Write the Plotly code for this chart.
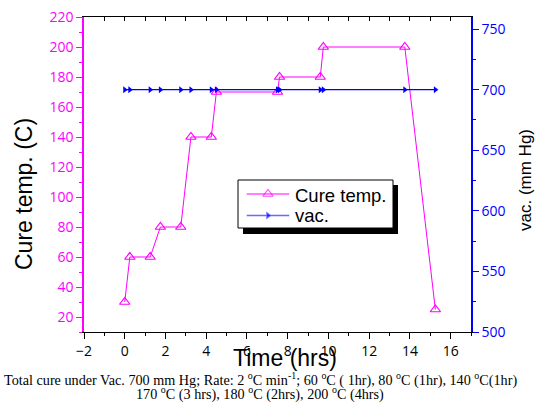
import plotly.graph_objects as go

# Data
time_hrs = [0, 0.25, 1.25, 1.75, 2.75, 3.25, 4.25, 4.5, 7.5, 7.6, 9.6, 9.75, 13.75, 15.25]
cure_temp = [30, 60, 60, 80, 80, 140, 140, 170, 170, 180, 180, 200, 200, 25]
vac_time = [0, 0.25, 1.25, 1.75, 2.75, 3.25, 4.25, 4.5, 7.5, 7.6, 9.6, 9.75, 13.75, 15.25]
vac_mmhg = [700] * 14
legend_names = ["Cure temp.", "vac."]

MAG = "#FF00FF"
BLUE = "#0000FF"
W, H = 543, 407
# plot area in pixels: x 84..471, y 17..332
L = 84
T = 17
R = W - 471
B = H - 332
PW, PH = W - L - R, H - T - B


def px_x(px):
    return (px - L) / PW


def px_y(py):
    return (H - B - py) / PH


fig = go.Figure()
fig.add_trace(go.Scatter(
    x=time_hrs, y=cure_temp, name=legend_names[0], mode="lines+markers",
    line=dict(color=MAG, width=1),
    marker=dict(symbol="triangle-up-open", size=9, color=MAG, line=dict(width=1.2)),
    yaxis="y",
))
fig.add_trace(go.Scatter(
    x=vac_time, y=vac_mmhg, name=legend_names[1], mode="lines+markers",
    line=dict(color=BLUE, width=1.2),
    marker=dict(symbol="triangle-right", size=6, color=BLUE),
    yaxis="y2",
))
# invisible trace to activate top mirror axis
fig.add_trace(go.Scatter(x=[-2], y=[10], xaxis="x2", yaxis="y", mode="markers",
                         marker=dict(opacity=0), showlegend=False, hoverinfo="skip"))

# legend symbols on a hidden overlay axis spanning the plot area (0..1)
lx = [px_x(246.7), px_x(268), px_x(289.3)]
fig.add_trace(go.Scatter(
    x=lx, y=[px_y(194)] * 3, xaxis="x3", yaxis="y3", mode="lines+markers",
    line=dict(color=MAG, width=1),
    marker=dict(symbol="triangle-up-open", size=[0, 9, 0], color=MAG, line=dict(width=1.2)),
    showlegend=False, hoverinfo="skip"))
fig.add_trace(go.Scatter(
    x=lx, y=[px_y(215.5)] * 3, xaxis="x3", yaxis="y3", mode="lines+markers",
    line=dict(color="#6A6AFF", width=1.5),
    marker=dict(symbol="triangle-right", size=[0, 6, 0], color=BLUE),
    showlegend=False, hoverinfo="skip"))

tickfont = dict(family="Open Sans", size=14)

fig.update_layout(
    width=W, height=H,
    margin=dict(l=L, r=R, t=T, b=B, autoexpand=False),
    paper_bgcolor="white", plot_bgcolor="white",
    showlegend=False,
    xaxis=dict(
        range=[-2, 17], dtick=2, tick0=0, showgrid=False, zeroline=False,
        showline=True, linecolor="black", linewidth=1.2,
        ticks="outside", ticklen=6, tickcolor="black", tickwidth=1,
        minor=dict(dtick=1, ticks="outside", ticklen=3, tickcolor="black"),
        tickfont=dict(tickfont, color="black"), ticklabeloverflow="allow",
    ),
    xaxis2=dict(
        range=[-2, 17], overlaying="x", side="top", matches="x", showticklabels=False,
        showgrid=False, zeroline=False, showline=True, linecolor="black", linewidth=1.2,
        ticks="inside", ticklen=4, tickcolor="black", dtick=1, tick0=0,
    ),
    xaxis3=dict(range=[0, 1], overlaying="x", visible=False, fixedrange=True),
    yaxis3=dict(range=[0, 1], overlaying="y", visible=False, fixedrange=True),
    yaxis=dict(
        range=[10, 220], dtick=20, tick0=20, showgrid=False, zeroline=False,
        showline=True, linecolor=MAG, linewidth=1.5,
        ticks="outside", ticklen=6, tickcolor=MAG, tickwidth=1,
        minor=dict(dtick=10, ticks="outside", ticklen=3, tickcolor=MAG),
        tickfont=dict(tickfont, color=MAG), ticklabeloverflow="allow",
    ),
    yaxis2=dict(
        range=[500, 760], dtick=50, tick0=500, overlaying="y", side="right",
        showgrid=False, zeroline=False,
        showline=True, linecolor=BLUE, linewidth=1.5,
        ticks="outside", ticklen=6, tickcolor=BLUE, tickwidth=1,
        minor=dict(dtick=25, ticks="outside", ticklen=3, tickcolor=BLUE),
        tickfont=dict(tickfont, color=BLUE), ticklabeloverflow="allow",
    ),
)

# legend box with drop shadow
fig.add_shape(type="rect", xref="paper", yref="paper",
              x0=px_x(243), x1=px_x(398), y0=px_y(234), y1=px_y(185),
              fillcolor="black", line=dict(width=0), layer="below")
fig.add_shape(type="rect", xref="paper", yref="paper",
              x0=px_x(238), x1=px_x(393), y0=px_y(228), y1=px_y(180),
              fillcolor="white", line=dict(color="black", width=1), layer="below")

leg_font = dict(family="Liberation Sans, Arial", size=18.5, color="black")
fig.add_annotation(text=legend_names[0], xref="paper", yref="paper",
                   x=px_x(293), y=px_y(195), showarrow=False, font=leg_font,
                   xanchor="left", yanchor="middle")
fig.add_annotation(text=legend_names[1], xref="paper", yref="paper",
                   x=px_x(293), y=px_y(215), showarrow=False, font=leg_font,
                   xanchor="left", yanchor="middle")

title_font = dict(family="Liberation Sans, Arial", color="black")
fig.add_annotation(text="Cure temp. (C)", xref="paper", yref="paper",
                   x=px_x(24), y=px_y(194), textangle=-90, showarrow=False,
                   font=dict(title_font, size=23), xanchor="center", yanchor="middle")
fig.add_annotation(text="vac. (mm Hg)", xref="paper", yref="paper",
                   x=px_x(526), y=px_y(180), textangle=-90, showarrow=False,
                   font=dict(title_font, size=17), xanchor="center", yanchor="middle")
fig.add_annotation(text="Time (hrs)", xref="paper", yref="paper",
                   x=px_x(285), y=px_y(358), showarrow=False,
                   font=dict(title_font, size=23), xanchor="center", yanchor="middle")

cap_font = dict(family="Liberation Serif, Times New Roman", size=14.2, color="black")
line1 = ("Total cure under Vac. 700 mm Hg; Rate: 2 <sup>o</sup>C min<sup>-1</sup>; "
         "60 <sup>o</sup>C ( 1hr), 80 <sup>o</sup>C (1hr), 140 <sup>o</sup>C(1hr)")
line2 = "170 <sup>o</sup>C (3 hrs), 180 <sup>o</sup>C (2hrs), 200 <sup>o</sup>C (4hrs)"
fig.add_annotation(text=line1, xref="paper", yref="paper", x=px_x(260), y=px_y(379),
                   showarrow=False, font=cap_font, xanchor="center", yanchor="middle")
fig.add_annotation(text=line2, xref="paper", yref="paper", x=px_x(260), y=px_y(393),
                   showarrow=False, font=cap_font, xanchor="center", yanchor="middle")

# place the figure at the page's top-left corner (no default body margin)
fig.write_html("out.html", config={"displayModeBar": False},
               post_script="document.body.style.margin='0';")
